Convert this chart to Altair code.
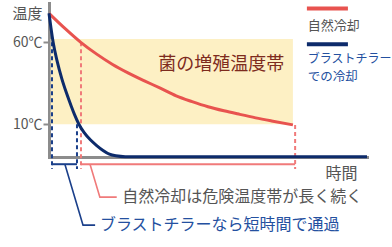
import altair as alt
import pandas as pd

FONT = "Noto Sans CJK JP"

# --- data (time in arbitrary units, temperature in °C) ---
red_t = [0, 5, 10, 15, 20, 25, 30, 35, 40, 45, 50, 55, 60, 65, 70, 76.7]
red_temp = [77.7, 68.5, 60, 52.8, 46.5, 41.2, 36.5, 32, 27.3, 23.8, 20.7, 18.2, 16, 13.9, 12, 9.6]

navy_t = [0, 0.6, 1.3, 2.5, 4, 5.5, 7, 8, 9.4, 11, 13, 15, 17, 19, 21, 24, 100]
navy_temp = [77.7, 69, 60, 49, 38, 29, 21, 16, 10, 5, 0.5, -3, -6, -8.3, -9.3, -9.8, -9.8]

band_t = [0.5, 76.7]
band_temp = [10, 62]

y_ticks = [10, 60]

navy_rule_t = [0.94, 8.8]
navy_rule_top = [60, 10]
red_rule_t = [10.06, 77.4]
red_rule_top = [60, 9.6]
rule_bottom = -17.4

bracket_temp = -14.4

navy_lead_t = [5.0, 10.7, 14.5]
navy_lead_temp = [-14.4, -51.6, -51.6]
red_lead_t = [12.9, 16.0, 21.3]
red_lead_temp = [-14.4, -34.5, -34.5]

legend_t = [81.1, 94.0]
legend_red_temp = 80.7
legend_navy_temp = 58.8

RED = "#e8534f"
RED_L = "#f07a7a"
NAVY = "#0d2b6b"
NAVY_D = "#1a3f8a"
NAVY_TXT = "#2450a0"
GRAY_TXT = "#555555"
AXIS = "#8c8c8c"

xs = alt.Scale(domain=[0, 100], nice=False, zero=False)
ys = alt.Scale(domain=[-10, 84], nice=False, zero=False)

red_df = pd.DataFrame({"t": red_t, "temp": red_temp})
navy_df = pd.DataFrame({"t": navy_t, "temp": navy_temp})
band_df = pd.DataFrame({"t": [band_t[0]], "t2": [band_t[1]], "lo": [band_temp[0]], "hi": [band_temp[1]]})

base_axes = alt.Chart(pd.DataFrame({"t": [0], "temp": [0]})).mark_point(opacity=0).encode(
    x=alt.X("t:Q", scale=xs, axis=alt.Axis(
        title="時間", ticks=False, labels=False, grid=False,
        domainColor=AXIS, domainWidth=3, domainCap="square",
        titleAngle=0, titleAlign="left", titleBaseline="middle",
        titleX=276, titleY=16, titleFont=FONT, titleFontSize=16,
        titleFontWeight="normal", titleColor=GRAY_TXT)),
    y=alt.Y("temp:Q", scale=ys, axis=alt.Axis(
        title="温度", values=y_ticks, labelExpr="datum.value + '℃'", grid=False,
        domainColor=AXIS, domainWidth=3, domainCap="square",
        tickColor=AXIS, tickWidth=2, tickSize=6, labelPadding=1,
        labelFont=FONT, labelFontSize=14, labelColor=GRAY_TXT,
        titleAngle=0, titleAlign="left", titleBaseline="middle",
        titleX=-37, titleY=10, titleFont=FONT, titleFontSize=15,
        titleFontWeight="normal", titleColor=GRAY_TXT)),
)

band = alt.Chart(band_df).mark_rect(color="#fdf0c4").encode(
    x=alt.X("t:Q", scale=xs), x2="t2:Q", y=alt.Y("lo:Q", scale=ys), y2="hi:Q")

band_text = alt.Chart(pd.DataFrame({"t": [54.2], "temp": [46], "s": ["菌の増殖温度帯"]})).mark_text(
    font=FONT, fontSize=18, color="#7d2b1e", align="center", baseline="middle").encode(
    x=alt.X("t:Q", scale=xs), y=alt.Y("temp:Q", scale=ys), text="s:N")

def rules(ts, tops, color):
    df = pd.DataFrame({"t": ts, "top": tops, "bot": [rule_bottom] * len(ts)})
    return alt.Chart(df).mark_rule(color=color, strokeWidth=2, strokeDash=[4, 3]).encode(
        x=alt.X("t:Q", scale=xs), y=alt.Y("top:Q", scale=ys), y2="bot:Q")

navy_rules = rules(navy_rule_t, navy_rule_top, NAVY_D)
red_rules = rules(red_rule_t, red_rule_top, RED_L)

def bracket(ts, color):
    df = pd.DataFrame({"t": [ts[0]], "t2": [ts[1]], "y": [bracket_temp]})
    return alt.Chart(df).mark_rule(color=color, strokeWidth=2).encode(
        x=alt.X("t:Q", scale=xs), x2="t2:Q", y=alt.Y("y:Q", scale=ys))

navy_bracket = bracket([navy_rule_t[0], navy_rule_t[1]], NAVY_D)
red_bracket = bracket([red_rule_t[0], red_rule_t[1]], RED_L)

def leader(ts, temps, color):
    df = pd.DataFrame({"t": ts, "temp": temps, "o": list(range(len(ts)))})
    return alt.Chart(df).mark_line(color=color, strokeWidth=1.6).encode(
        x=alt.X("t:Q", scale=xs), y=alt.Y("temp:Q", scale=ys), order="o:Q")

navy_leader = leader(navy_lead_t, navy_lead_temp, NAVY_D)
red_leader = leader(red_lead_t, red_lead_temp, RED_L)

def label(t, temp, s, color, size):
    df = pd.DataFrame({"t": [t], "temp": [temp], "s": [s]})
    return alt.Chart(df).mark_text(font=FONT, fontSize=size, color=color,
                                   align="left", baseline="middle").encode(
        x=alt.X("t:Q", scale=xs), y=alt.Y("temp:Q", scale=ys), text="s:N")

red_note = label(23.0, -34.5, "自然冷却は危険温度帯が長く続く", GRAY_TXT, 16)
navy_note = label(16.0, -51.6, "ブラストチラーなら短時間で通過", NAVY_TXT, 16)

red_line = alt.Chart(red_df).mark_line(color=RED, strokeWidth=3, interpolate="monotone").encode(
    x=alt.X("t:Q", scale=xs), y=alt.Y("temp:Q", scale=ys))
navy_line = alt.Chart(navy_df).mark_line(color=NAVY, strokeWidth=3, interpolate="monotone").encode(
    x=alt.X("t:Q", scale=xs), y=alt.Y("temp:Q", scale=ys))

def legend_bar(temp, color):
    df = pd.DataFrame({"t": [legend_t[0]], "t2": [legend_t[1]], "y": [temp]})
    return alt.Chart(df).mark_rule(color=color, strokeWidth=4).encode(
        x=alt.X("t:Q", scale=xs), x2="t2:Q", y=alt.Y("y:Q", scale=ys))

leg_red = legend_bar(legend_red_temp, RED)
leg_navy = legend_bar(legend_navy_temp, NAVY)
leg_red_txt = label(81.4, 69.8, "自然冷却", GRAY_TXT, 13)
leg_navy_txt1 = label(81.4, 49.7, "ブラストチラー", NAVY_TXT, 12)
leg_navy_txt2 = label(81.4, 38.8, "での冷却", NAVY_TXT, 12.5)

chart = alt.layer(
    band, base_axes, band_text, navy_rules, red_rules, navy_bracket, red_bracket,
    navy_leader, red_leader, red_note, navy_note,
    red_line, navy_line, leg_red, leg_navy, leg_red_txt, leg_navy_txt1, leg_navy_txt2,
).properties(
    width=318, height=154,
    autosize=alt.AutoSizeParams(type="none"),
    padding={"left": 49, "top": 3, "right": 25, "bottom": 90},
    background="white",
).configure_view(stroke=None)

chart.save("out.html", embed_options={"renderer": "svg", "actions": False})
